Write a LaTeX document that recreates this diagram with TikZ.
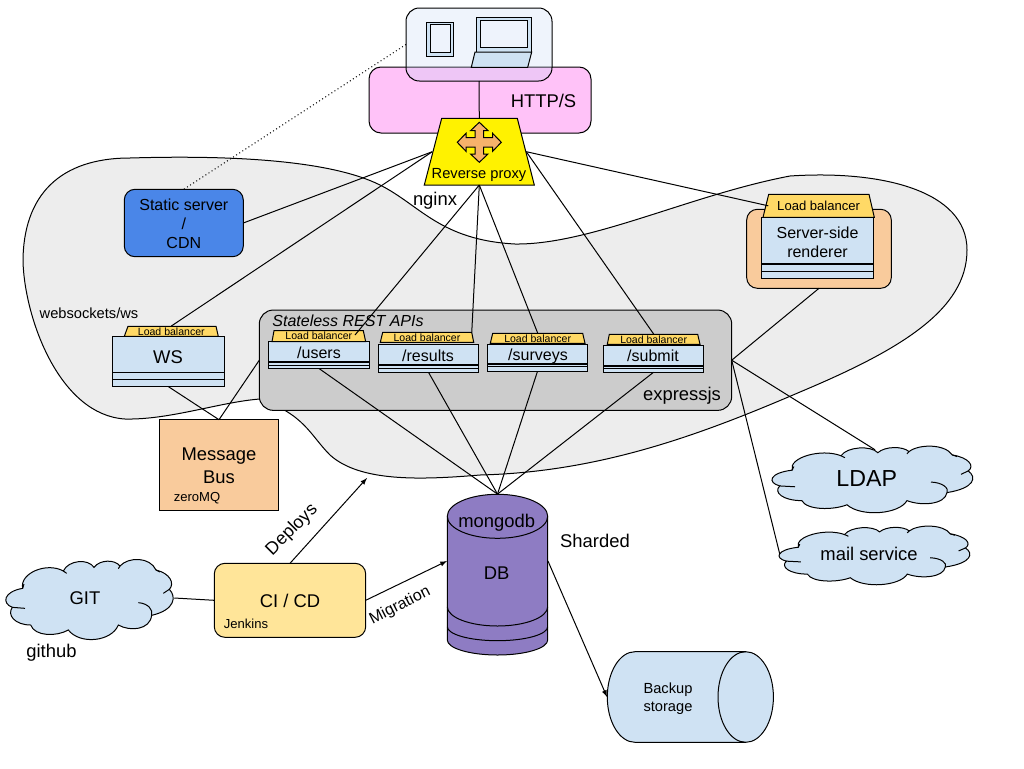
\documentclass[tikz,border=0pt]{standalone}
\usepackage{fontspec}
\setmainfont{Liberation Sans}
\usetikzlibrary{arrows}

\definecolor{paleblue}{HTML}{CFE2F3}
\definecolor{lbyellow}{HTML}{FFD966}
\definecolor{peach}{HTML}{F9CB9C}
\definecolor{pinkbox}{HTML}{FFC2F8}
\definecolor{cdnblue}{HTML}{4A86E8}
\definecolor{dbpurple}{HTML}{8E7CC3}
\definecolor{cibox}{HTML}{FFE599}
\definecolor{arrowicon}{HTML}{F6B26B}
\definecolor{devicetint}{HTML}{BFD3F2}
\definecolor{screenpale}{HTML}{EEF3FC}

\tikzset{
  outlined/.style={draw, line width=0.75pt, inner sep=0pt, outer sep=0pt},
  box/.style 2 args={outlined, minimum width={(#1)*0.75pt}, minimum height={(#2)*0.75pt}},
  link/.style={line width=0.75pt},
  fsxs/.style={inner sep=0pt, font=\fontsize{7.9}{9.5}\selectfont},
  fss/.style={inner sep=0pt, font=\fontsize{9.8}{12}\selectfont},
  fsm/.style={inner sep=0pt, align=center, font=\fontsize{11}{13.8}\selectfont},
  fsl/.style={inner sep=0pt, align=center, font=\fontsize{12}{14.2}\selectfont},
  fsx/.style={inner sep=0pt, align=center, font=\fontsize{13.8}{16.9}\selectfont},
  cloudpic/.pic={
    \filldraw[fill=paleblue, line width=0.75pt]
      (68,385) .. controls (58,340) and (140,305) .. (190,333)
      .. controls (205,300) and (265,295) .. (282,322)
      .. controls (300,298) and (345,298) .. (360,318)
      .. controls (385,290) and (450,290) .. (468,330)
      .. controls (510,340) and (525,370) .. (508,388)
      .. controls (530,410) and (525,450) .. (455,466)
      .. controls (450,510) and (390,515) .. (355,495)
      .. controls (335,545) and (240,555) .. (205,510)
      .. controls (170,530) and (105,530) .. (92,495)
      .. controls (45,495) and (20,465) .. (37,442)
      .. controls (5,430) and (10,395) .. (68,385) -- cycle;
    \draw[line width=0.75pt] (68,385) -- (72,372);
    \draw[line width=0.75pt] (190,333) -- (200,340);
    \draw[line width=0.75pt] (360,318) -- (355,326);
    \draw[line width=0.75pt] (468,330) -- (480,336);
    \draw[line width=0.75pt] (508,388) -- (490,400);
    \draw[line width=0.75pt] (415,428) .. controls (445,430) and (460,450) .. (455,466);
    \draw[line width=0.75pt] (37,442) -- (75,445);
  }
}

% #1 rule under the title, then name, left, right, top, rule 1, rule 2, bottom
\newcommand{\classbox}[8][1.6pt]{
  \node[box={#4-#3}{#8-#5}, fill=paleblue] (#2) at ({(#3+#4)/2},{(#5+#8)/2}) {};
  \draw[line width=#1] (#3,#6) -- (#4,#6);
  \draw[link] (#3,#7) -- (#4,#7);
}
% #1 font style, then name, bottom left, top left, top right, bottom right, top, bottom
\newcommand{\lbbox}[8][fsxs]{
  \filldraw[fill=lbyellow, line width=0.75pt] (#3,#8) -- (#4,#7) -- (#5,#7) -- (#6,#8) -- cycle;
  \node[#1, minimum width={(#5-#4)*0.75pt}, minimum height={(#8-#7)*0.75pt}] (#2) at ({(#3+#6)/2},{(#7+#8)/2}) {Load balancer};
}

\begin{document}
\begin{tikzpicture}[x=0.75pt, y=-0.75pt, >=latex]
\useasboundingbox (0,0) rectangle (1024,768);

% grey area behind the services
\filldraw[fill=black!7, line width=0.75pt]
  (23,262) .. controls (23,195) and (60,158) .. (130,158)
  .. controls (230,155) and (330,160) .. (380,185)
  .. controls (420,205) and (440,240) .. (515,244)
  .. controls (590,245) and (690,195) .. (790,176)
  .. controls (880,170) and (967,190) .. (967,250)
  .. controls (967,310) and (900,350) .. (800,392)
  .. controls (700,435) and (600,472) .. (480,475)
  .. controls (420,480) and (360,482) .. (330,455)
  .. controls (310,435) and (305,415) .. (260,399)
  .. controls (220,402) and (170,420) .. (125,419)
  .. controls (60,415) and (25,320) .. (23,262) -- cycle;

% clients and entry
\node[box={222}{66}, rounded corners=9pt, fill=pinkbox] (http) at (480,100) {};
\node[fsx, anchor=center] (httplabel) at (543.5,101) {HTTP/S};
\node[box={146}{73}, rounded corners=10pt, fill=devicetint, fill opacity=0.25] (device) at (479,44.5) {};
\node[box={26.3}{34}, fill=paleblue] (tablet) at (440,39) {};
\node[box={20}{28}, fill=screenpale] (tabletscreen) at (440.7,38) {};
\node[box={55}{35}, fill=paleblue] (laptop) at (504.2,34.5) {};
\node[box={47.7}{26.7}, fill=screenpale] (laptopscreen) at (503.9,34.3) {};
\filldraw[fill=paleblue, line width=0.75pt] (475,52) -- (531.7,52) -- (527.7,67.3) -- (471.3,67.3) -- cycle;

\filldraw[fill=yellow, line width=0.75pt] (424.3,185) -- (441.7,118.3) -- (517.3,118.3) -- (534.3,185) -- cycle;
\node[minimum width=70.5pt, minimum height=50pt, inner sep=0pt, outer sep=0pt] (proxy) at (479.3,151.7) {};
\filldraw[fill=arrowicon, line width=0.75pt, shift={(479.3,142.3)}]
  (0,-20) -- (8.7,-11.7) -- (4.3,-11.7) -- (4.3,-4.7) -- (13.3,-4.7) -- (13.3,-9) -- (22,0)
  -- (13.3,9) -- (13.3,4.7) -- (4.3,4.7) -- (4.3,11.7) -- (8.7,11.7) -- (0,20) -- (-8.7,11.7)
  -- (-4.3,11.7) -- (-4.3,4.7) -- (-13.3,4.7) -- (-13.3,9) -- (-22,0) -- (-13.3,-9)
  -- (-13.3,-4.7) -- (-4.3,-4.7) -- (-4.3,-11.7) -- (-8.7,-11.7) -- cycle;
\node[fsm] (proxylabel) at (479,175) {Reverse proxy};
\node[fsx] (nginx) at (435,201) {nginx};

\node[box={119}{67.4}, rounded corners=8pt, fill=cdnblue] (static) at (183.8,223) {};
\node[fsl] (staticlabel) at (183.8,224) {Static server\\/\\CDN};
\node[fsm] (wslabel) at (89,313) {websockets/ws};

% server-side renderer
\node[box={144.6}{79}, rounded corners=8pt, fill=peach] (ssrbox) at (819,248.8) {};
\classbox{ssr}{761.7}{873.3}{217.3}{264}{271}{278.3}
\node[fsl] (ssrlabel) at (817.5,242) {Server-side\\renderer};
\lbbox[fss]{ssrlb}{763}{768.7}{869}{874.3}{194.3}{217.3}

% websocket service
\classbox[0.75pt]{ws}{112.3}{224.7}{336.3}{372.3}{379.3}{386.7}
\node[fsx] (wslabel2) at (168,357) {WS};
\lbbox{wslb}{124.3}{128}{216}{218.3}{326.3}{336.3}

% REST APIs
\node[box={472.4}{100.3}, rounded corners=10.5pt, fill=black!20] (express) at (495.5,360.2) {};
\node[inner sep=0pt, font=\fontsize{12}{15}\selectfont\itshape] (restlabel) at (348,320.5) {Stateless REST APIs};
\node[fsx] (expresslabel) at (682,396) {expressjs};

\classbox{users}{268.3}{369.7}{341.7}{362}{365.7}{368.5}
\node[fsl] (userslabel) at (319,352.3) {/users};
\lbbox{userslb}{272}{274}{363.3}{365.7}{330.7}{341.7}
\classbox{results}{378.3}{478.7}{344.3}{364.8}{368.7}{372.3}
\node[fsl] (resultslabel) at (428,355.5) {/results};
\lbbox{resultslb}{380.3}{382.7}{471.7}{473.7}{332.3}{342.3}
\classbox{surveys}{487.3}{587.7}{344.3}{363.6}{366.7}{371.3}
\node[fsl] (surveyslabel) at (538,356.5) {/surveys};
\lbbox{surveyslb}{490.3}{492.7}{582.7}{585}{333.3}{343.3}
\classbox{submit}{603.3}{703.7}{345.3}{365.8}{368.3}{372.3}
\node[fsl] (submitlabel) at (653,356) {/submit};
\lbbox{submitlb}{607.3}{609.3}{697.7}{700}{334.3}{344.3}

% message bus
\node[box={118.6}{91}, fill=peach] (bus) at (219,465.2) {};
\node[fsx] (buslabel) at (219,466) {Message\\Bus};
\node[fss] (zeromq) at (197,498) {zeroMQ};

% database
\filldraw[fill=dbpurple, line width=0.75pt] (447.3,516.3) -- (447.3,640) arc[start angle=180, end angle=0, x radius=50.2, y radius=15]
  -- (547.7,516.3) arc[start angle=0, end angle=-180, x radius=50.2, y radius=22] -- cycle;
\draw[link] (447.3,516.3) arc[start angle=180, end angle=0, x radius=50.2, y radius=22];
\draw[link] (447.3,606.7) arc[start angle=180, end angle=0, x radius=50.2, y radius=19.3];
\draw[link] (447.3,626.7) arc[start angle=180, end angle=0, x radius=50.2, y radius=14];
\node[minimum width=75.3pt, minimum height=120.5pt, inner sep=0pt] (db) at (497.5,574.7) {};
\node[fsx] (mongolabel) at (496.7,523) {mongodb};
\node[fsx] (dblabel) at (496.7,572.7) {DB};
\node[fsx] (sharded) at (595,541) {Sharded};

% backup
\filldraw[fill=paleblue, line width=0.75pt] (745.7,651.7) -- (635,651.7)
  arc[start angle=-90, end angle=-270, x radius=27.7, y radius=45.3]
  -- (745.7,742.3) arc[start angle=90, end angle=-90, x radius=27.7, y radius=45.3] -- cycle;
\draw[link] (745.7,651.7) arc[start angle=-90, end angle=-270, x radius=27.7, y radius=45.3];
\node[minimum width=124.5pt, minimum height=68pt, inner sep=0pt] (backup) at (690.3,697) {};
\node[fsm] (backuplabel) at (668,698.5) {Backup\\storage};

% clouds
\pic[scale=1/3] at (0,460) {cloudpic};
\node[fsx, minimum width=133.5pt, minimum height=60pt] (git) at (85,598) {GIT};
\node[fsx] (github) at (51.5,652.5) {github};
\pic[xscale=0.4, yscale=0.277] at (765,363.5) {cloudpic};
\node[inner sep=0pt, minimum width=150pt, minimum height=42.7pt, font=\fontsize{17.4}{20}\selectfont] (ldap) at (866.7,478.5) {LDAP};
\pic[xscale=0.38, yscale=0.244] at (772.4,453.3) {cloudpic};
\node[fsx, minimum width=133.5pt, minimum height=40pt] (mail) at (869,554) {mail service};

% build
\node[box={151.4}{74}, rounded corners=8pt, fill=cibox] (ci) at (290,600.3) {};
\node[fsx] (cilabel) at (290,601) {CI / CD};
\node[fss] (jenkins) at (246,624) {Jenkins};
\node[inner sep=0pt, font=\fontsize{13.4}{15}\selectfont, rotate=45] (deploys) at (292,530) {Deploys};
\node[fsl, rotate=27] (migration) at (400,606) {Migration};

\coordinate (deployend) at (367,478);
\coordinate (usersend) at (355,335);

% links
\draw[link] (device.south) -- (proxy.north);
\draw[link, dotted] (device.west) -- (static.north);
\draw[link] (proxy.west) -- (static.east);
\draw[link] (proxy.west) -- (wslb.north);
\draw[link] (proxy.south) -- (usersend);
\draw[link] (proxy.south) -- (resultslb.north east);
\draw[link] (proxy.south) -- (surveyslb.north);
\draw[link] (proxy.east) -- (submitlb.north);
\draw[link] (proxy.east) -- (ssrlb.west);
\draw[link] (ssrbox.south) -- (express.east);
\draw[link] (express.east) -- (875,0 |- ldap.north);
\draw[link] (express.east) -- (mail.west);
\draw[link] (ws.south) -- (bus.north);
\draw[link] (express.west) -- (bus.north);
\draw[link] (users.south) -- (db.north);
\draw[link] (results.south) -- (db.north);
\draw[link] (surveys.south) -- (db.north);
\draw[link] (submit.south) -- (db.north);
\draw[link] (git.east) -- (ci.west);
\draw[link, ->] (ci.north) -- (deployend);
\draw[link, ->] (ci.east) -- (db.west |- 0,561);
\draw[link, ->] (db.east |- 0,561) -- (backup.west);

\end{tikzpicture}
\end{document}
